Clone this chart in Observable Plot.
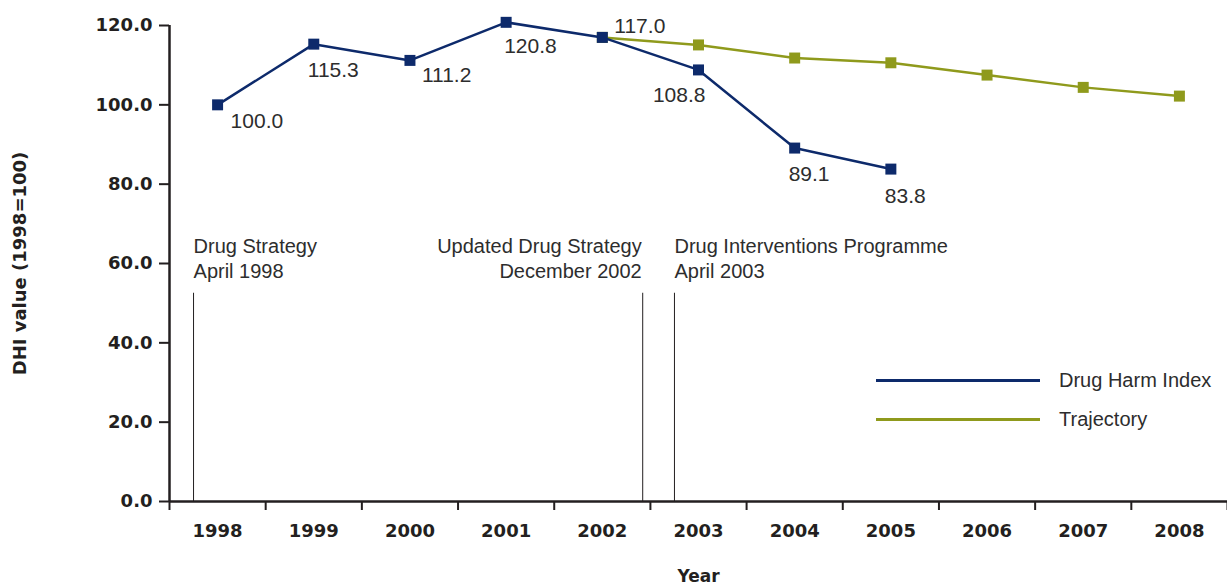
<!DOCTYPE html>
<html>
<head>
<meta charset="utf-8">
<script src="https://cdn.jsdelivr.net/npm/d3@7"></script>
<script src="https://cdn.jsdelivr.net/npm/@observablehq/plot@0.6"></script>
<style>
  body { margin: 0; background: #fff; }
  #wrap { position: relative; width: 1227px; height: 586px; font-family: "Liberation Sans", Arial, sans-serif; }
  .lg-line { position: absolute; left: 876px; width: 164px; height: 3px; }
  .lg-text { position: absolute; left: 1059px; font-size: 20px; color: #2d2d2d; line-height: 24px; }
</style>
</head>
<body>
<div id="wrap"></div>
<script>
// ---- data ----
const years = [1998, 1999, 2000, 2001, 2002, 2003, 2004, 2005, 2006, 2007, 2008];
const dhiYears = [1998, 1999, 2000, 2001, 2002, 2003, 2004, 2005];
const dhiValues = [100.0, 115.3, 111.2, 120.8, 117.0, 108.8, 89.1, 83.8];
const trajYears = [2002, 2003, 2004, 2005, 2006, 2007, 2008];
const trajValues = [117.0, 115.1, 111.8, 110.6, 107.5, 104.4, 102.2];
const yTicks = [0, 20, 40, 60, 80, 100, 120];
const eventNames = ["Drug Strategy", "Updated Drug Strategy", "Drug Interventions Programme"];
const eventDates = ["April 1998", "December 2002", "April 2003"];
const eventTimes = [1998.25, 2002.92, 2003.25]; // fractional year
const seriesNames = ["Drug Harm Index", "Trajectory"];

// ---- build tables ----
const dhi = dhiYears.map((y, i) => ({year: y, value: dhiValues[i]}));
const traj = trajYears.map((y, i) => ({year: y, value: trajValues[i]}));
const events = eventNames.map((n, i) => ({name: n, date: eventDates[i], t: eventTimes[i]}));
const boundaries = years.concat([years[years.length - 1] + 1]);

const navy = "#0d2a6b";
const olive = "#8f9a1c";
const ink = "#231f20";
const txt = "#2d2d2d";
const FF = "Liberation Sans, Arial, sans-serif";
const FB = "DejaVu Sans, sans-serif";

// label placement per DHI point (index-based)
const placement = [
  {anchor: "start", dx: 13, dy: 16},
  {anchor: "start", dx: -6, dy: 26},
  {anchor: "start", dx: 12, dy: 15},
  {anchor: "start", dx: -2, dy: 24},
  {anchor: "start", dx: 12, dy: -11},
  {anchor: "end", dx: 7, dy: 25},
  {anchor: "start", dx: -6, dy: 26},
  {anchor: "start", dx: -6, dy: 27}
];
const labelMarks = dhi.map((d, i) => Plot.text([d], {
  x: v => v.year + 0.5, y: "value", text: v => v.value.toFixed(1),
  textAnchor: placement[i].anchor, dx: placement[i].dx, dy: placement[i].dy,
  fontSize: 21, fontFamily: FF, fill: txt
}));

const chart = Plot.plot({
  width: 1227,
  height: 586,
  marginLeft: 169,
  marginRight: 0,
  marginTop: 25,
  marginBottom: 85,
  x: {domain: [1998, 2009]},
  y: {domain: [0, 120]},
  style: {fontFamily: FF, background: "white", overflow: "visible"},
  marks: [
    // event rules and texts
    Plot.ruleX(events, {x: "t", y1: 0, y2: 52.5, stroke: ink, strokeWidth: 1}),
    Plot.text(events.filter((d, i) => i !== 1), {
      x: "t", y: 67.3, text: d => d.name + "\n" + d.date,
      textAnchor: "start", lineAnchor: "top", lineHeight: 1.28,
      fontSize: 20, fontFamily: FF, fill: txt
    }),
    Plot.text(events.filter((d, i) => i === 1), {
      x: "t", y: 67.3, text: d => d.name + "\n" + d.date,
      textAnchor: "end", lineAnchor: "top", lineHeight: 1.28, dx: -1,
      fontSize: 20, fontFamily: FF, fill: txt
    }),
    // axes
    Plot.axisY({ticks: yTicks, tickFormat: d => d.toFixed(1), tickSize: 10, tickPadding: 7,
      fontSize: 18, fontWeight: "bold", fontFamily: FB, stroke: ink, fill: ink, strokeWidth: 2, label: null}),
    Plot.axisX({ticks: boundaries, tickFormat: () => "", tickSize: 9, stroke: ink, strokeWidth: 2, label: null}),
    Plot.axisX({ticks: years.map(y => y + 0.5), tickFormat: d => String(Math.floor(d)), tickSize: 0, tickPadding: 23,
      fontSize: 18, fontWeight: "bold", fontFamily: FB, fill: ink, label: null}),
    Plot.ruleX([1998], {y1: 0, y2: 120, stroke: ink, strokeWidth: 2.5}),
    Plot.ruleY([0], {stroke: ink, strokeWidth: 2.5}),
    Plot.text(["DHI value (1998=100)"], {frameAnchor: "left", dx: -149, rotate: -90,
      textAnchor: "middle", lineAnchor: "middle",
      fontSize: 18, fontWeight: "bold", fontFamily: FB, fill: ink}),
    Plot.text(["Year"], {frameAnchor: "bottom", dy: 75, lineAnchor: "middle",
      fontSize: 17, fontWeight: "bold", fontFamily: FB, fill: ink}),
    // series
    Plot.line(traj, {x: d => d.year + 0.5, y: "value", stroke: olive, strokeWidth: 2.5}),
    Plot.dot(traj, {x: d => d.year + 0.5, y: "value", symbol: "square", r: 6.2, fill: olive}),
    Plot.line(dhi, {x: d => d.year + 0.5, y: "value", stroke: navy, strokeWidth: 2.5}),
    Plot.dot(dhi, {x: d => d.year + 0.5, y: "value", symbol: "square", r: 6.2, fill: navy}),
    ...labelMarks
  ]
});

const wrap = document.getElementById("wrap");
wrap.appendChild(chart);

// legend overlay
const legendColors = [navy, olive];
const legendTops = [380, 419];
seriesNames.forEach((n, i) => {
  const line = document.createElement("div");
  line.className = "lg-line";
  line.style.top = (legendTops[i] - 1.5) + "px";
  line.style.background = legendColors[i];
  wrap.appendChild(line);
  const t = document.createElement("div");
  t.className = "lg-text";
  t.style.top = (legendTops[i] - 12) + "px";
  t.textContent = n;
  wrap.appendChild(t);
});
</script>
</body>
</html>
